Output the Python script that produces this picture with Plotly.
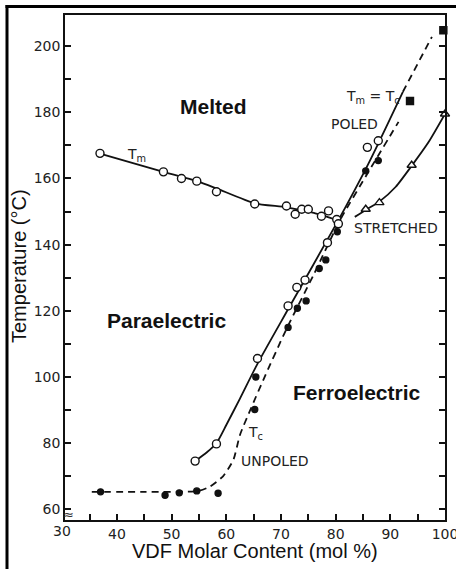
import plotly.graph_objects as go

# ---------------- data ----------------
# Melting temperature Tm, open circles
tm_x = [36.9, 48.5, 51.8, 54.6, 58.2, 65.2, 71.0, 72.6, 73.8, 75.0, 77.4, 78.7, 80.2]
tm_y = [167.6, 162.0, 160.0, 159.2, 156.0, 152.3, 151.7, 149.2, 150.7, 150.7, 148.6, 150.2, 147.6]
tm_curve_x = [36.9, 48.5, 54.6, 58.2, 65.2, 71.0, 76.0, 80.5]
tm_curve_y = [167.5, 162.0, 159.2, 157.0, 152.5, 151.3, 149.6, 147.3]

# Curie temperature Tc (open circles, solid curve)
tc_open_x = [54.3, 58.2, 65.7, 71.3, 72.9, 74.4, 78.5, 80.5, 85.8, 87.8]
tc_open_y = [74.6, 79.8, 105.6, 121.5, 127.1, 129.3, 140.6, 146.3, 169.4, 171.4]
tc_solid_x = [54.3, 56.4, 58.2, 60.0, 62.5, 65.7, 71.3, 80.5, 86.0, 92.3]
tc_solid_y = [74.6, 77.2, 80.0, 85.5, 93.5, 104.0, 120.5, 147.4, 164.5, 186.2]
# extrapolation Tm = Tc (dashed)
tmtc_x = [92.3, 97.6]
tmtc_y = [186.2, 202.8]

# Tc unpoled / poled (filled circles, dashed curve)
tc_fill_x = [37.0, 48.8, 51.4, 54.6, 58.5, 65.2, 65.4, 71.3, 73.0, 74.6, 77.0, 78.2, 80.3, 85.5, 87.8]
tc_fill_y = [65.3, 64.3, 65.0, 65.6, 64.9, 90.2, 100.0, 115.0, 120.8, 123.0, 132.8, 135.4, 143.9, 162.3, 165.4]
tc_dash_x = [35.4, 45.0, 55.0, 57.0, 59.4, 61.3, 62.5, 64.5, 67.0, 71.0, 76.0, 80.8, 86.0, 91.5]
tc_dash_y = [65.3, 65.3, 65.6, 66.9, 70.0, 75.0, 82.5, 90.5, 100.0, 114.5, 131.0, 147.4, 162.0, 177.1]

# filled squares
sq_x = [93.6, 99.7]
sq_y = [183.4, 204.8]

# Stretched (open triangles, solid curve)
st_x = [85.5, 88.0, 93.9, 100.0]
st_y = [150.7, 152.7, 164.0, 179.5]
st_curve_x = [83.5, 85.5, 88.0, 91.0, 93.9, 97.0, 100.0]
st_curve_y = [148.4, 150.5, 153.0, 157.5, 163.8, 171.0, 179.5]

x_range = [30.5, 100]
y_range = [56.8, 209.4]

# ---------------- figure ----------------
fig = go.Figure()
BLACK = "#111111"

def line(x, y, dash="solid", width=1.8):
    fig.add_trace(go.Scatter(x=x, y=y, mode="lines",
                             line=dict(color=BLACK, width=width, dash=dash, shape="spline", smoothing=0.6),
                             hoverinfo="skip", cliponaxis=False))

line(tm_curve_x, tm_curve_y)
line(tc_solid_x, tc_solid_y)
line(tmtc_x, tmtc_y, dash="7px,5px")
line(tc_dash_x, tc_dash_y, dash="7px,5px")
line(st_curve_x, st_curve_y)

def markers(x, y, symbol, size, fill):
    fig.add_trace(go.Scatter(x=x, y=y, mode="markers", cliponaxis=False,
                             marker=dict(symbol=symbol, size=size, color=fill,
                                         line=dict(color=BLACK, width=1.4))))

markers(tm_x, tm_y, "circle", 8, "white")
markers(tc_open_x, tc_open_y, "circle", 8, "white")
markers(tc_fill_x, tc_fill_y, "circle", 6, BLACK)
markers(sq_x, sq_y, "square", 7, BLACK)
markers(st_x, st_y, "triangle-up", 8, "white")

L, R, T, B = 65, 11, 15, 49
W, H = 456, 569
pw, ph = W - L - R, H - T - B

def px(xp):
    return (xp - L) / pw

def py(yp):
    return (H - B - yp) / ph

tick_font = dict(family="DejaVu Sans", size=14, color="#222222")
label_font = dict(family="DejaVu Sans", size=14, color="#222222")
region_font = dict(family="Liberation Sans, Arial", size=21, color="#111111")
title_font = dict(family="Liberation Sans, Arial", size=20, color="#111111")

annotations = [
    dict(x=57.6, y=181.9, text="<b>Melted</b>", font=region_font),
    dict(x=49.1, y=117.2, text="<b>Paraelectric</b>", font=region_font),
    dict(x=83.9, y=95.2, text="<b>Ferroelectric</b>", font=region_font),
    dict(x=43.5, y=167.2, text="T<sub>m</sub>", font=label_font),
    dict(x=86.8, y=184.6, text="T<sub>m</sub> = T<sub>c</sub>", font=label_font),
    dict(x=83.5, y=176.4, text="POLED", font=label_font),
    dict(x=91.0, y=145.0, text="STRETCHED", font=label_font),
    dict(x=65.3, y=83.1, text="T<sub>c</sub>", font=label_font),
    dict(x=68.9, y=74.6, text="UNPOLED", font=label_font),
]
for a in annotations:
    a.update(xref="x", yref="y", showarrow=False, xanchor="center", yanchor="middle")

# tick label for 30 (left of the broken axis)
annotations.append(dict(x=px(62), y=py(531), xref="paper", yref="paper", text="30", showarrow=False,
                        font=tick_font, xanchor="center", yanchor="middle"))
# axis break symbol
annotations.append(dict(x=px(68), y=py(514), xref="paper", yref="paper", text="≈", showarrow=False,
                        font=dict(family="DejaVu Sans", size=13, color="#333333"),
                        xanchor="center", yanchor="middle"))
# axis titles
annotations.append(dict(x=px(255), y=py(551), xref="paper", yref="paper",
                        text="VDF Molar Content (mol %)", showarrow=False,
                        font=title_font, xanchor="center", yanchor="middle"))
annotations.append(dict(x=px(19), y=py(266), xref="paper", yref="paper",
                        text="Temperature (°C)", showarrow=False, textangle=-90,
                        font=title_font, xanchor="center", yanchor="middle"))

shapes = [
    # outer frame (left and top edges of the scanned figure)
    dict(type="line", xref="paper", yref="paper", x0=px(7), x1=px(7), y0=py(5), y1=py(569),
         line=dict(color="black", width=3)),
    dict(type="line", xref="paper", yref="paper", x0=px(5.5), x1=px(456), y0=py(6.5), y1=py(6.5),
         line=dict(color="black", width=3)),
]

fig.update_layout(
    width=W, height=H,
    margin=dict(l=L, r=R, t=T, b=B, autoexpand=False),
    paper_bgcolor="white", plot_bgcolor="white",
    showlegend=False,
    annotations=annotations,
    shapes=shapes,
    xaxis=dict(range=x_range, tickmode="linear", tick0=30, dtick=10,
               ticks="inside", ticklen=6, tickwidth=1.5, tickcolor=BLACK,
               minor=dict(dtick=5, tick0=30, ticks="inside", ticklen=6, tickwidth=1.5, tickcolor=BLACK),
               showline=True, linecolor=BLACK, linewidth=1.5, mirror=True,
               showgrid=False, zeroline=False, tickfont=tick_font, automargin=False,
               ticklabeloverflow="allow"),
    yaxis=dict(range=y_range, tickmode="linear", tick0=60, dtick=20,
               ticks="inside", ticklen=6, tickwidth=1.5, tickcolor=BLACK,
               minor=dict(dtick=10, tick0=60, ticks="inside", ticklen=6, tickwidth=1.5, tickcolor=BLACK),
               showline=True, linecolor=BLACK, linewidth=1.5, mirror="ticks",
               showgrid=False, zeroline=False, tickfont=tick_font, automargin=False,
               ticklabeloverflow="allow"),
)

fig.write_html("out.html", config={"displayModeBar": False},
               post_script="document.body.style.margin='0';document.body.style.overflow='hidden';")
